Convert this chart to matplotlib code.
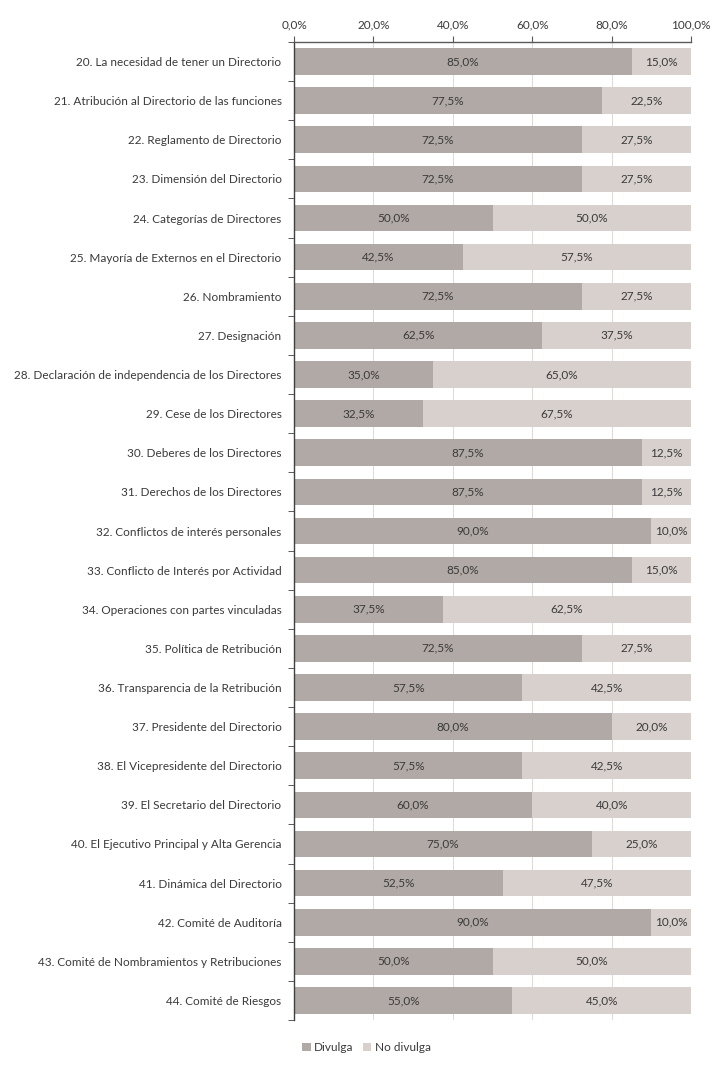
import numpy as np
import matplotlib
matplotlib.use("Agg")
import matplotlib.pyplot as plt
from matplotlib.ticker import FixedLocator, FuncFormatter

plt.rcParams['font.family'] = ['Lato', 'DejaVu Sans']

categorias = [
    "20. La necesidad de tener un Directorio",
    "21. Atribución al Directorio de las funciones",
    "22. Reglamento de Directorio",
    "23. Dimensión del Directorio",
    "24. Categorías de Directores",
    "25. Mayoría de Externos en el Directorio",
    "26. Nombramiento",
    "27. Designación",
    "28. Declaración de independencia de los Directores",
    "29. Cese de los Directores",
    "30. Deberes de los Directores",
    "31. Derechos de los Directores",
    "32. Conflictos de interés personales",
    "33. Conflicto de Interés por Actividad",
    "34. Operaciones con partes vinculadas",
    "35. Política de Retribución",
    "36. Transparencia de la Retribución",
    "37. Presidente del Directorio",
    "38. El Vicepresidente del Directorio",
    "39. El Secretario del Directorio",
    "40. El Ejecutivo Principal y Alta Gerencia",
    "41. Dinámica del Directorio",
    "42. Comité de Auditoría",
    "43. Comité de Nombramientos y Retribuciones",
    "44. Comité de Riesgos",
]
divulga = [85.0, 77.5, 72.5, 72.5, 50.0, 42.5, 72.5, 62.5, 35.0, 32.5, 87.5, 87.5, 90.0,
           85.0, 37.5, 72.5, 57.5, 80.0, 57.5, 60.0, 75.0, 52.5, 90.0, 50.0, 55.0]
no_divulga = [15.0, 22.5, 27.5, 27.5, 50.0, 57.5, 27.5, 37.5, 65.0, 67.5, 12.5, 12.5, 10.0,
              15.0, 62.5, 27.5, 42.5, 20.0, 42.5, 40.0, 25.0, 47.5, 10.0, 50.0, 45.0]

c_div = '#b1a9a5'
c_nodiv = '#d8d0cd'
txt = '#3a3a3a'
fs = 8.5

fig = plt.figure(figsize=(7.26, 10.71), dpi=100)
ax = fig.add_axes([0.405, 0.0476, 0.547, 0.9132])

y = np.arange(len(categorias))
h = 0.68
b1 = ax.barh(y, divulga, height=h, color=c_div, label='Divulga', zorder=2)
b2 = ax.barh(y, no_divulga, left=divulga, height=h, color=c_nodiv, label='No divulga', zorder=2)

for i in range(len(categorias)):
    ax.text(divulga[i] / 2, y[i], f"{divulga[i]:.1f}%".replace('.', ','),
            ha='center', va='center', fontsize=fs, color=txt, zorder=4)
    ax.text(divulga[i] + no_divulga[i] / 2, y[i], f"{no_divulga[i]:.1f}%".replace('.', ','),
            ha='center', va='center', fontsize=fs, color=txt, zorder=4)

ax.set_xlim(0, 100)
ax.set_ylim(len(categorias) - 0.5, -0.5)
ax.xaxis.tick_top()
ax.set_xticks(np.arange(0, 101, 20))
ax.xaxis.set_major_formatter(FuncFormatter(lambda v, p: f"{v:.1f}%".replace('.', ',')))
ax.tick_params(axis='x', direction='out', length=4, color='#595959', labelsize=fs,
               labelcolor=txt, pad=4)
ax.grid(axis='x', color='#c9c0bc', linewidth=0.7, alpha=0.6, zorder=3)

ax.set_yticks(y)
ax.set_yticklabels(categorias)
ax.yaxis.set_minor_locator(FixedLocator(np.arange(-0.5, len(categorias) + 0.5, 1)))
ax.tick_params(axis='y', which='major', length=0, labelsize=fs, labelcolor=txt, pad=9)
ax.tick_params(axis='y', which='minor', length=4, color='#404040', direction='out')

for s in ['right', 'bottom']:
    ax.spines[s].set_visible(False)
ax.spines['top'].set_color('#595959')
ax.spines['left'].set_color('#404040')
ax.spines['top'].set_linewidth(1.0)
ax.spines['left'].set_linewidth(1.0)

fig.legend(handles=[b1, b2], loc='center', bbox_to_anchor=(0.505, 0.022), ncol=2,
           frameon=False, fontsize=fs, handlelength=0.7, handleheight=0.7,
           handletextpad=0.3, columnspacing=0.8, labelcolor=txt)

fig.savefig('out.png', dpi=100)
